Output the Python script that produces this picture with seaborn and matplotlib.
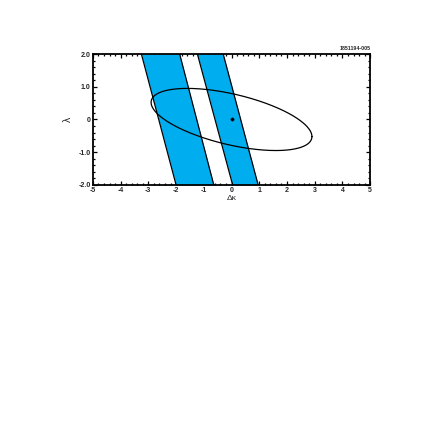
import numpy as np
import pandas as pd
import matplotlib
matplotlib.use("Agg")
import matplotlib.pyplot as plt
from matplotlib.ticker import MultipleLocator
import seaborn as sns

# Band edges (delta kappa) at lambda = +2 and lambda = -2
band_lambda = [2.0, -2.0]
band1_left = [-3.25, -2.00]
band1_right = [-1.87, -0.64]
band2_left = [-1.23, 0.04]
band2_right = [-0.30, 0.96]

# Ellipse: max extent in delta kappa, max extent in lambda, phase shift
ell_dk_max = 2.9
ell_lam_max = 0.95
ell_phase = 2.153
# Central point
center_dk = [0.0]
center_lam = [0.0]

xticks = [-5, -4, -3, -2, -1, 0, 1, 2, 3, 4, 5]
xticklabels = ["-5", "-4", "-3", "-2", "-1", "0", "1", "2", "3", "4", "5"]
yticks = [-2, -1, 0, 1, 2]
yticklabels = ["-2.0", "-1.0", "0", "1.0", "2.0"]

sns.set_theme(style="white")
plt.rcParams["font.family"] = ["Liberation Sans", "DejaVu Sans"]

fig = plt.figure(figsize=(4.36, 4.36), dpi=100)
ax = fig.add_axes([0.213, 0.576, 0.636, 0.300])

blue = "#00AEEF"
for L, R in [(band1_left, band1_right), (band2_left, band2_right)]:
    ax.fill_betweenx(band_lambda, L, R, color=blue, lw=0)
    ax.plot(L, band_lambda, color="black", lw=0.9)
    ax.plot(R, band_lambda, color="black", lw=0.9)

t = np.linspace(0, 2 * np.pi, 400)
ell = pd.DataFrame({"dk": ell_dk_max * np.cos(t),
                    "lam": ell_lam_max * np.cos(t - ell_phase)})
sns.lineplot(data=ell, x="dk", y="lam", sort=False, estimator=None,
             color="black", lw=0.9, ax=ax)
sns.scatterplot(x=center_dk, y=center_lam, color="black", s=6, ax=ax,
                edgecolor="black", zorder=5)

ax.set_xlim(-5, 5)
ax.set_ylim(-2, 2)
ax.set_xticks(xticks)
ax.set_xticklabels(xticklabels, fontsize=5, fontweight="bold")
ax.set_yticks(yticks)
ax.set_yticklabels(yticklabels, fontsize=5, fontweight="bold")
ax.xaxis.set_minor_locator(MultipleLocator(0.2))
ax.yaxis.set_minor_locator(MultipleLocator(0.2))
ax.tick_params(which="both", direction="in", top=True, right=True,
               bottom=True, left=True, width=0.9, color="black", pad=1.5)
ax.tick_params(which="major", length=3)
ax.tick_params(which="minor", length=1.5)
for s in ax.spines.values():
    s.set_linewidth(1.3)
    s.set_color("black")
ax.set_xlabel("Δκ", fontsize=6, labelpad=1)
ax.set_ylabel("λ", fontsize=7.5, labelpad=4)
ax.text(1.0, 1.02, "1851194-005", transform=ax.transAxes, ha="right",
        va="bottom", fontsize=3.8, fontweight="bold")

fig.savefig("out.png", dpi=100)
